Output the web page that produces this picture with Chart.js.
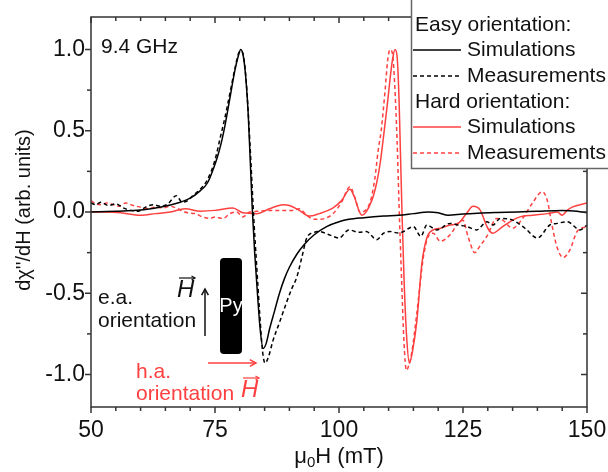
<!DOCTYPE html>
<html>
<head>
<meta charset="utf-8">
<script src="https://cdn.jsdelivr.net/npm/chart.js@4"></script>
<style>
  html, body { margin: 0; padding: 0; background: #fff; }
</style>
</head>
<body>
<canvas id="fmrChart" width="608" height="472"></canvas>
<script>
// ===== Data =====
const xTicks = [50, 75, 100, 125, 150];
const xMinorTicks = [55, 60, 65, 70, 80, 85, 90, 95, 105, 110, 115, 120, 130, 135, 140, 145];
const yTicks = [-1.0, -0.5, 0.0, 0.5, 1.0];
const yMinorTicks = [-0.75, -0.25, 0.25, 0.75];

// Easy orientation - simulations (black solid)
const easySimX = [50, 55, 60, 63, 66, 68, 70, 72, 73.5, 74.6, 75.5, 76.3, 77, 78, 79, 79.7, 80.2, 80.7, 81.2, 81.7,
  82.1, 82.5, 83, 83.6, 84.1, 84.7, 85.3, 86, 87, 88, 89, 90, 91.5, 93, 95, 97.5, 100, 102, 105, 109,
  112, 115, 118, 120, 122, 125, 128, 132, 136, 140, 145, 148, 150];
const easySimY = [0, 0.005, 0.012, 0.025, 0.043, 0.06, 0.085, 0.13, 0.18, 0.26, 0.34, 0.43, 0.53, 0.7, 0.87, 0.96, 1.0, 0.96, 0.83, 0.6,
  0.32, 0.03, -0.25, -0.52, -0.72, -0.84, -0.81, -0.72, -0.61, -0.5, -0.41, -0.34, -0.26, -0.2, -0.14, -0.09, -0.06, -0.045, -0.035, -0.025,
  -0.02, -0.01, 0.0, -0.005, -0.02, -0.012, -0.007, -0.003, 0.0, 0.005, 0.01, 0.005, -0.005];

// Easy orientation - measurements (black dashed)
const easyMeasX = [50, 51, 52, 53.5, 55, 56.5, 58, 59.5, 61, 62.5, 64, 65.5, 67.2, 68.4, 69.5, 70.5, 72, 73.5, 75, 76,
  77, 78, 79, 79.8, 80.3, 80.8, 81.3, 81.8, 82.3, 82.8, 83.4, 84, 84.6, 85.1, 85.8, 86.7, 88, 89.5, 90.5, 91.5,
  92.5, 93.5, 95, 96, 98, 100, 102, 104, 105.5, 107.6, 109, 110.3, 112, 113, 115, 116.5, 117.7, 119.7, 122.4, 124,
  125.8, 127.8, 129.8, 131, 132.5, 135, 137.5, 140, 142.5, 144, 146, 148.6, 150];
const easyMeasY = [0.055, 0.045, 0.06, 0.04, 0.05, 0.025, 0.01, 0.005, 0.03, 0.045, 0.035, 0.05, 0.1, 0.06, 0.07, 0.1, 0.14, 0.2, 0.32, 0.45,
  0.58, 0.73, 0.88, 0.98, 0.99, 0.95, 0.8, 0.56, 0.27, -0.03, -0.33, -0.62, -0.86, -0.93, -0.89, -0.79, -0.68, -0.55, -0.47, -0.4,
  -0.28, -0.16, -0.125, -0.12, -0.14, -0.16, -0.11, -0.125, -0.12, -0.17, -0.13, -0.12, -0.13, -0.12, -0.09, -0.15, -0.08, -0.11, -0.07, -0.08,
  -0.09, -0.11, -0.06, -0.08, -0.04, -0.05, -0.1, -0.16, -0.08, -0.07, -0.06, -0.11, -0.08];

// Hard orientation - simulations (red solid)
const hardSimX = [50, 53, 56, 60, 63, 66, 69, 72, 75, 78.6, 80.6, 83.4, 86, 88.7, 90, 92, 94, 96, 98.8, 100.5,
  102.2, 103, 104.6, 106.6, 107.6, 108.3, 109, 109.7, 110.3, 110.8, 111.3, 111.7, 112.1, 112.4, 112.7, 113.1, 113.6, 114.2, 114.8, 115.7,
  116.7, 117.7, 119, 120.5, 122.4, 124, 125.8, 127, 128.4, 130, 131, 133, 135, 136.5, 139, 142, 144, 145, 146, 147, 150];
const hardSimY = [0.0, 0.0, -0.005, -0.02, -0.01, 0.0, 0.02, 0.005, 0.01, 0.025, -0.005, -0.01, 0.02, 0.045, 0.04, 0.01, -0.025, -0.01, 0.025, 0.07,
  0.14, 0.1, -0.02, 0.07, 0.18, 0.3, 0.47, 0.65, 0.82, 0.94, 1.0, 0.96, 0.7, 0.35, 0.0, -0.4, -0.75, -0.93, -0.86, -0.67,
  -0.32, -0.16, -0.11, -0.1, -0.08, -0.07, -0.005, 0.035, 0.015, -0.1, -0.13, -0.09, -0.05, -0.03, -0.02, -0.01, 0.0, -0.02, 0.01, 0.03, 0.055];

// Hard orientation - measurements (red dashed)
const hardMeasX = [50, 51, 52, 53.2, 54.5, 55.5, 57, 58.5, 60, 61.5, 63, 64.5, 66, 67.5, 68.5, 69.5, 71, 72.5, 74, 75,
  76.6, 78, 79.4, 80.6, 82, 84, 86, 88, 90.7, 92, 93.5, 95, 96, 98.8, 100.5, 102.2, 103.2, 104.2, 106.2, 107.2,
  107.9, 108.5, 109.3, 109.8, 110.3, 110.8, 111.2, 111.7, 112.1, 112.6, 113.1, 113.6, 114.1, 114.7, 115.7, 117, 118, 119, 120.4, 122.4,
  124, 125, 126, 127.4, 128.4, 129.8, 131.8, 133, 135, 137, 139, 141, 142, 143, 144, 145.2, 146.6, 148, 150];
const hardMeasY = [0.07, 0.05, 0.045, 0.055, 0.045, 0.035, 0.055, 0.04, 0.03, 0.02, 0.03, 0.025, 0.035, 0.02, 0.005, -0.005, -0.01, -0.03, -0.04, -0.03,
  -0.04, -0.01, 0.0, -0.03, 0.0, 0.005, 0.01, 0.01, 0.01, 0.02, -0.02, -0.045, -0.045, -0.01, 0.06, 0.155, 0.09, 0.0, 0.055, 0.2,
  0.38, 0.5, 0.75, 0.93, 1.0, 0.97, 0.8, 0.45, 0.05, -0.4, -0.8, -0.975, -0.94, -0.86, -0.62, -0.28, -0.15, -0.13, -0.18, -0.14,
  -0.07, -0.05, -0.15, -0.25, -0.21, -0.15, -0.04, -0.05, -0.1, -0.04, 0.055, 0.125, 0.07, -0.09, -0.22, -0.28, -0.23, -0.12, -0.09];

// ===== Styles =====
const FONT = "'Liberation Sans', Arial, sans-serif";
const RED = '#ff4040';
const INK = '#111';
Chart.defaults.font.family = FONT;

const toPoints = (xs, ys) => xs.map((v, i) => ({ x: v, y: ys[i] }));

const lineSet = (label, xs, ys, color, dashed) => ({
  label,
  data: toPoints(xs, ys),
  borderColor: color,
  borderWidth: 1.5,
  borderDash: dashed ? [4, 3] : [],
  pointRadius: 0,
  fill: false,
  cubicInterpolationMode: 'monotone'
});

// ===== Frame, ticks, annotations, legend =====
const line = (ctx, x1, y1, x2, y2) => {
  ctx.beginPath(); ctx.moveTo(x1, y1); ctx.lineTo(x2, y2); ctx.stroke();
};

const arrow = (ctx, x1, y1, x2, y2, head) => {
  line(ctx, x1, y1, x2, y2);
  const ang = Math.atan2(y2 - y1, x2 - x1);
  ctx.beginPath();
  ctx.moveTo(x2 - head * Math.cos(ang - 0.5), y2 - head * Math.sin(ang - 0.5));
  ctx.lineTo(x2, y2);
  ctx.lineTo(x2 - head * Math.cos(ang + 0.5), y2 - head * Math.sin(ang + 0.5));
  ctx.stroke();
};

const vecH = (ctx, x, y, color) => {
  ctx.fillStyle = color;
  ctx.font = `italic 24px ${FONT}`;
  ctx.textAlign = 'left';
  ctx.textBaseline = 'middle';
  ctx.fillText('H', x, y);
  ctx.strokeStyle = color;
  ctx.lineWidth = 1.2;
  arrow(ctx, x + 2, y - 12, x + 18, y - 12, 4);
};

const decor = {
  id: 'decor',
  afterDatasetsDraw(chart) {
    const { ctx, chartArea: a, scales: { x, y } } = chart;
    ctx.save();
    ctx.strokeStyle = '#333';
    ctx.lineWidth = 1.5;
    ctx.strokeRect(a.left, a.top, a.right - a.left, a.bottom - a.top);

    // bottom/left ticks point out, top/right ticks point in
    const tickX = (v, len) => {
      const px = x.getPixelForValue(v);
      line(ctx, px, a.bottom, px, a.bottom + len);
      line(ctx, px, a.top, px, a.top + len);
    };
    const tickY = (v, len) => {
      const py = y.getPixelForValue(v);
      line(ctx, a.left - len, py, a.left, py);
      line(ctx, a.right - len, py, a.right, py);
    };
    xTicks.forEach(v => tickX(v, 6));
    xMinorTicks.forEach(v => tickX(v, 4));
    yTicks.forEach(v => tickY(v, 6));
    yMinorTicks.forEach(v => tickY(v, 4));

    // axis titles
    ctx.fillStyle = INK;
    ctx.textBaseline = 'middle';
    ctx.font = `22px ${FONT}`;
    const t1 = 'μ', t2 = '0', t3 = 'H (mT)';
    const w1 = ctx.measureText(t1).width, w3 = ctx.measureText(t3).width;
    ctx.font = `15px ${FONT}`;
    const w2 = ctx.measureText(t2).width;
    const tx = (a.left + a.right) / 2 - (w1 + w2 + w3) / 2;
    ctx.textAlign = 'left';
    ctx.font = `22px ${FONT}`;
    ctx.fillText(t1, tx, 457);
    ctx.font = `15px ${FONT}`;
    ctx.fillText(t2, tx + w1, 463);
    ctx.font = `22px ${FONT}`;
    ctx.fillText(t3, tx + w1 + w2, 457);

    ctx.save();
    ctx.translate(24, 210);
    ctx.rotate(-Math.PI / 2);
    ctx.textAlign = 'center';
    ctx.font = `20px ${FONT}`;
    ctx.fillText("dχ''/dH (arb. units)", 0, 0);
    ctx.restore();

    // annotations
    ctx.textAlign = 'left';
    ctx.font = `21px ${FONT}`;
    ctx.fillText('9.4 GHz', 101, 47);
    ctx.fillText('e.a.', 98, 298);
    ctx.fillText('orientation', 98, 321);

    ctx.fillStyle = '#000';
    ctx.beginPath();
    ctx.roundRect(220, 258, 22, 96, 4);
    ctx.fill();
    ctx.fillStyle = '#fff';
    ctx.textAlign = 'center';
    ctx.font = `20px ${FONT}`;
    ctx.fillText('Py', 231, 306);

    ctx.strokeStyle = '#111';
    ctx.lineWidth = 1.5;
    arrow(ctx, 205, 336, 205, 289, 7);
    vecH(ctx, 177, 290, INK);

    ctx.fillStyle = RED;
    ctx.textAlign = 'left';
    ctx.font = `21px ${FONT}`;
    ctx.fillText('h.a.', 136, 372);
    ctx.fillText('orientation', 136, 394);
    ctx.strokeStyle = RED;
    ctx.lineWidth = 1.5;
    arrow(ctx, 208, 363, 256, 363, 7);
    vecH(ctx, 241, 390, RED);

    // legend box
    ctx.fillStyle = '#fff';
    ctx.fillRect(411, -2, 210, 170);
    ctx.strokeStyle = '#666';
    ctx.lineWidth = 1.5;
    ctx.strokeRect(411.5, -2, 210, 170.5);

    const rows = [
      { head: 'Easy orientation:', y: 25 },
      { label: 'Simulations', color: '#000', dash: [], y: 50 },
      { label: 'Measurements', color: '#000', dash: [4, 3], y: 76 },
      { head: 'Hard orientation:', y: 102 },
      { label: 'Simulations', color: RED, dash: [], y: 127 },
      { label: 'Measurements', color: RED, dash: [4, 3], y: 153 }
    ];
    ctx.font = `21px ${FONT}`;
    ctx.textAlign = 'left';
    rows.forEach(r => {
      ctx.fillStyle = INK;
      if (r.head) { ctx.fillText(r.head, 415, r.y); return; }
      ctx.strokeStyle = r.color;
      ctx.setLineDash(r.dash);
      line(ctx, 413, r.y, 461, r.y);
      ctx.setLineDash([]);
      ctx.fillText(r.label, 467, r.y);
    });
    ctx.restore();
  }
};

// ===== Chart =====
new Chart(document.getElementById('fmrChart'), {
  type: 'line',
  data: {
    datasets: [
      lineSet('Easy orientation: Simulations', easySimX, easySimY, '#000', false),
      lineSet('Easy orientation: Measurements', easyMeasX, easyMeasY, '#000', true),
      lineSet('Hard orientation: Simulations', hardSimX, hardSimY, RED, false),
      lineSet('Hard orientation: Measurements', hardMeasX, hardMeasY, RED, true)
    ]
  },
  options: {
    responsive: false,
    animation: false,
    devicePixelRatio: 1,
    layout: { padding: { top: 17, right: 21, left: 0, bottom: 0 } },
    plugins: { legend: { display: false }, tooltip: { enabled: false } },
    scales: {
      x: {
        type: 'linear',
        min: 50,
        max: 150,
        afterBuildTicks: s => { s.ticks = xTicks.map(v => ({ value: v })); },
        afterFit: s => { s.height = 65; s.paddingLeft = 0; s.paddingRight = 0; },
        grid: { display: false, drawTicks: false },
        border: { display: false },
        ticks: { color: INK, font: { size: 23 }, padding: 10, maxRotation: 0 }
      },
      y: {
        type: 'linear',
        min: -1.2,
        max: 1.2,
        afterBuildTicks: s => { s.ticks = yTicks.map(v => ({ value: v })); },
        afterFit: s => { s.width = 91; s.paddingTop = 0; s.paddingBottom = 0; },
        grid: { display: false, drawTicks: false },
        border: { display: false },
        ticks: { color: INK, font: { size: 23 }, padding: 6, callback: v => v.toFixed(1) }
      }
    }
  },
  plugins: [decor]
});
</script>
</body>
</html>
